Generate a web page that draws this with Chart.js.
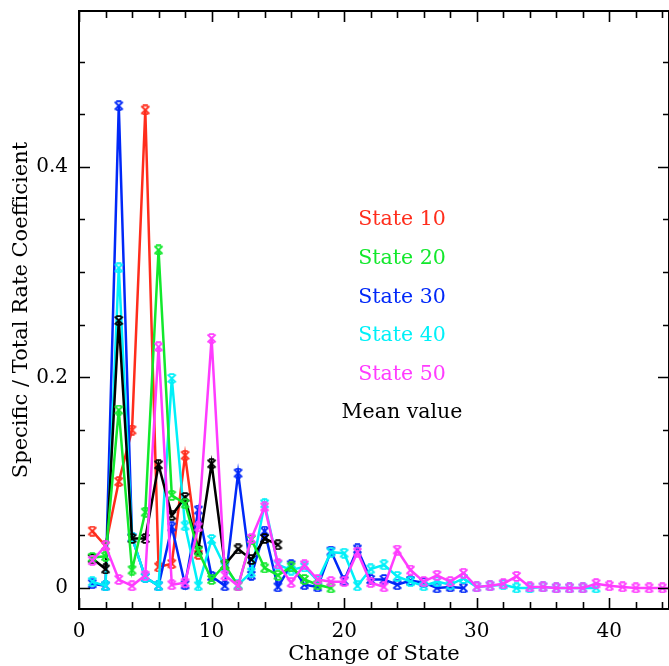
<!DOCTYPE html>
<html>
<head>
<meta charset="utf-8">
<script src="https://cdn.jsdelivr.net/npm/chart.js@4.4.1/dist/chart.umd.min.js"></script>
<style>
  html, body { margin: 0; padding: 0; background: #fff; overflow: hidden; }
  canvas { display: block; }
</style>
</head>
<body>
<canvas id="rateCoeff" width="669" height="666"></canvas>
<script>
// change of state (x) for every measured point
const changeOfState = [1, 2, 3, 4, 5, 6, 7, 8, 9, 10, 11, 12, 13, 14, 15, 16, 17, 18, 19, 20,
  21, 22, 23, 24, 25, 26, 27, 28, 29, 30, 31, 32, 33, 34, 35, 36, 37, 38, 39, 40,
  41, 42, 43, 44, 45];

// specific / total rate coefficient, one array per starting state
const state10 = [0.054, 0.040, 0.101, 0.150, 0.454, 0.020, 0.023, 0.126, 0.032];
const state20 = [0.029, 0.030, 0.169, 0.017, 0.072, 0.321, 0.088, 0.080, 0.035, 0.008,
  0.022, 0.002, 0.046, 0.019, 0.012, 0.020, 0.008, 0.003, 0.000];
const state30 = [0.004, 0.002, 0.458, 0.048, 0.010, 0.002, 0.058, 0.003, 0.074, 0.011,
  0.002, 0.109, 0.012, 0.054, 0.001, 0.022, 0.003, 0.001, 0.035, 0.007,
  0.037, 0.008, 0.008, 0.003, 0.007, 0.005, 0.000, 0.001, 0.000];
const state40 = [0.006, 0.002, 0.304, 0.048, 0.010, 0.002, 0.199, 0.059, 0.002, 0.046,
  0.020, 0.003, 0.015, 0.080, 0.022, 0.017, 0.020, 0.007, 0.034, 0.033,
  0.002, 0.018, 0.022, 0.011, 0.006, 0.002, 0.006, 0.003, 0.009, 0.001,
  0.002, 0.003, 0.000, 0.000, 0.001, 0.000, 0.000, 0.000, 0.000];
const state50 = [0.026, 0.040, 0.008, 0.002, 0.012, 0.229, 0.003, 0.005, 0.058, 0.237,
  0.012, 0.002, 0.047, 0.077, 0.023, 0.005, 0.022, 0.008, 0.006, 0.006,
  0.034, 0.005, 0.001, 0.036, 0.017, 0.006, 0.012, 0.006, 0.014, 0.001,
  0.002, 0.004, 0.011, 0.001, 0.001, 0.000, 0.000, 0.000, 0.004, 0.002,
  0.001, 0.000, 0.000, 0.000, 0.000];
const meanValue = [0.028, 0.018, 0.254, 0.047, 0.047, 0.117, 0.069, 0.086, 0.036, 0.118,
  0.022, 0.037, 0.027, 0.047, 0.041];

const xTickLabels = [0, 10, 20, 30, 40];
const yTickLabels = [0, 0.2, 0.4];

const FONT = '"DejaVu Serif", serif';

// x-shaped marker with short flat caps top and bottom
function makeMarker(color) {
  const c = document.createElement('canvas');
  c.width = 11; c.height = 11;
  const g = c.getContext('2d');
  g.strokeStyle = color;
  g.lineWidth = 1.8;
  g.beginPath();
  g.moveTo(1.5, 1.5); g.lineTo(9.5, 9.5);
  g.moveTo(9.5, 1.5); g.lineTo(1.5, 9.5);
  g.moveTo(3, 1.2); g.lineTo(8, 1.2);
  g.moveTo(3, 9.8); g.lineTo(8, 9.8);
  g.stroke();
  return c;
}

// order: lower numbers end up on top
const series = [
  { label: 'State 10', values: state10, color: '#ff2d1c', order: 6 },
  { label: 'State 20', values: state20, color: '#12e82c', order: 2 },
  { label: 'State 30', values: state30, color: '#0028f8', order: 5 },
  { label: 'State 40', values: state40, color: '#00f0f8', order: 4 },
  { label: 'State 50', values: state50, color: '#ff3cff', order: 1 },
  { label: 'Mean value', values: meanValue, color: '#000000', order: 3 }
];

const datasets = series.map(s => ({
  label: s.label,
  data: s.values.map((v, i) => ({ x: changeOfState[i], y: v })),
  borderColor: s.color,
  backgroundColor: s.color,
  borderWidth: 2.5,
  pointStyle: makeMarker(s.color),
  pointRadius: 5,
  tension: 0,
  order: s.order
}));

// boxed frame with inward ticks on all four sides
const frame = {
  id: 'frame',
  afterDraw(chart) {
    const { ctx, chartArea: { left, right, top, bottom }, scales: { x, y } } = chart;
    ctx.save();
    ctx.strokeStyle = '#000';
    ctx.lineWidth = 2;
    ctx.strokeRect(left, top, right - left, bottom - top);
    ctx.lineWidth = 1.6;
    ctx.beginPath();
    for (let v = 0; v <= x.max; v += 2) {
      const px = Math.round(x.getPixelForValue(v)) + 0.5;
      const len = v % 10 === 0 ? 11 : 7;
      ctx.moveTo(px, bottom); ctx.lineTo(px, bottom - len);
      ctx.moveTo(px, top); ctx.lineTo(px, top + len);
    }
    for (let k = 0; k * 0.05 <= y.max; k++) {
      const py = Math.round(y.getPixelForValue(k * 0.05)) + 0.5;
      const len = k % 4 === 0 ? 11 : 6;
      ctx.moveTo(left, py); ctx.lineTo(left + len, py);
      ctx.moveTo(right, py); ctx.lineTo(right - len, py);
    }
    ctx.stroke();
    ctx.restore();
  }
};

// coloured series names stacked inside the plot
const labelBlock = {
  id: 'labelBlock',
  afterDraw(chart) {
    const { ctx } = chart;
    ctx.save();
    ctx.font = '20.5px ' + FONT;
    ctx.textAlign = 'center';
    ctx.textBaseline = 'middle';
    series.forEach((s, i) => {
      ctx.fillStyle = s.color;
      ctx.fillText(s.label, 402, 220 + i * 38.6);
    });
    ctx.restore();
  }
};

new Chart(document.getElementById('rateCoeff'), {
  type: 'line',
  data: { datasets },
  options: {
    responsive: false,
    animation: false,
    devicePixelRatio: 1,
    layout: { autoPadding: false, padding: { top: 11, right: 0, left: 0, bottom: 0 } },
    plugins: { legend: { display: false }, tooltip: { enabled: false } },
    scales: {
      x: {
        type: 'linear',
        min: 0,
        max: 44.5,
        afterFit(scale) {
          scale.height = 57;
          scale.paddingLeft = 0;
          scale.paddingRight = 0;
        },
        afterBuildTicks(scale) { scale.ticks = xTickLabels.map(v => ({ value: v })); },
        grid: { display: false, drawTicks: false },
        border: { display: false },
        ticks: {
          padding: 11,
          color: '#000',
          font: { family: FONT, size: 20 },
          callback: v => String(v)
        },
        title: {
          display: true,
          text: 'Change of State',
          color: '#000',
          font: { family: FONT, size: 21 },
          padding: { top: 0, bottom: -1 }
        }
      },
      y: {
        type: 'linear',
        min: -0.02,
        max: 0.548,
        afterFit(scale) {
          scale.width = 79;
          scale.paddingTop = 0;
          scale.paddingBottom = 0;
        },
        afterBuildTicks(scale) { scale.ticks = yTickLabels.map(v => ({ value: v })); },
        grid: { display: false, drawTicks: false },
        border: { display: false },
        ticks: {
          padding: 11,
          color: '#000',
          font: { family: FONT, size: 20 },
          callback: v => String(v)
        },
        title: {
          display: true,
          text: 'Specific / Total Rate Coefficient',
          color: '#000',
          font: { family: FONT, size: 21 },
          padding: { top: 9, bottom: 0 }
        }
      }
    }
  },
  plugins: [frame, labelBlock]
});
</script>
</body>
</html>
